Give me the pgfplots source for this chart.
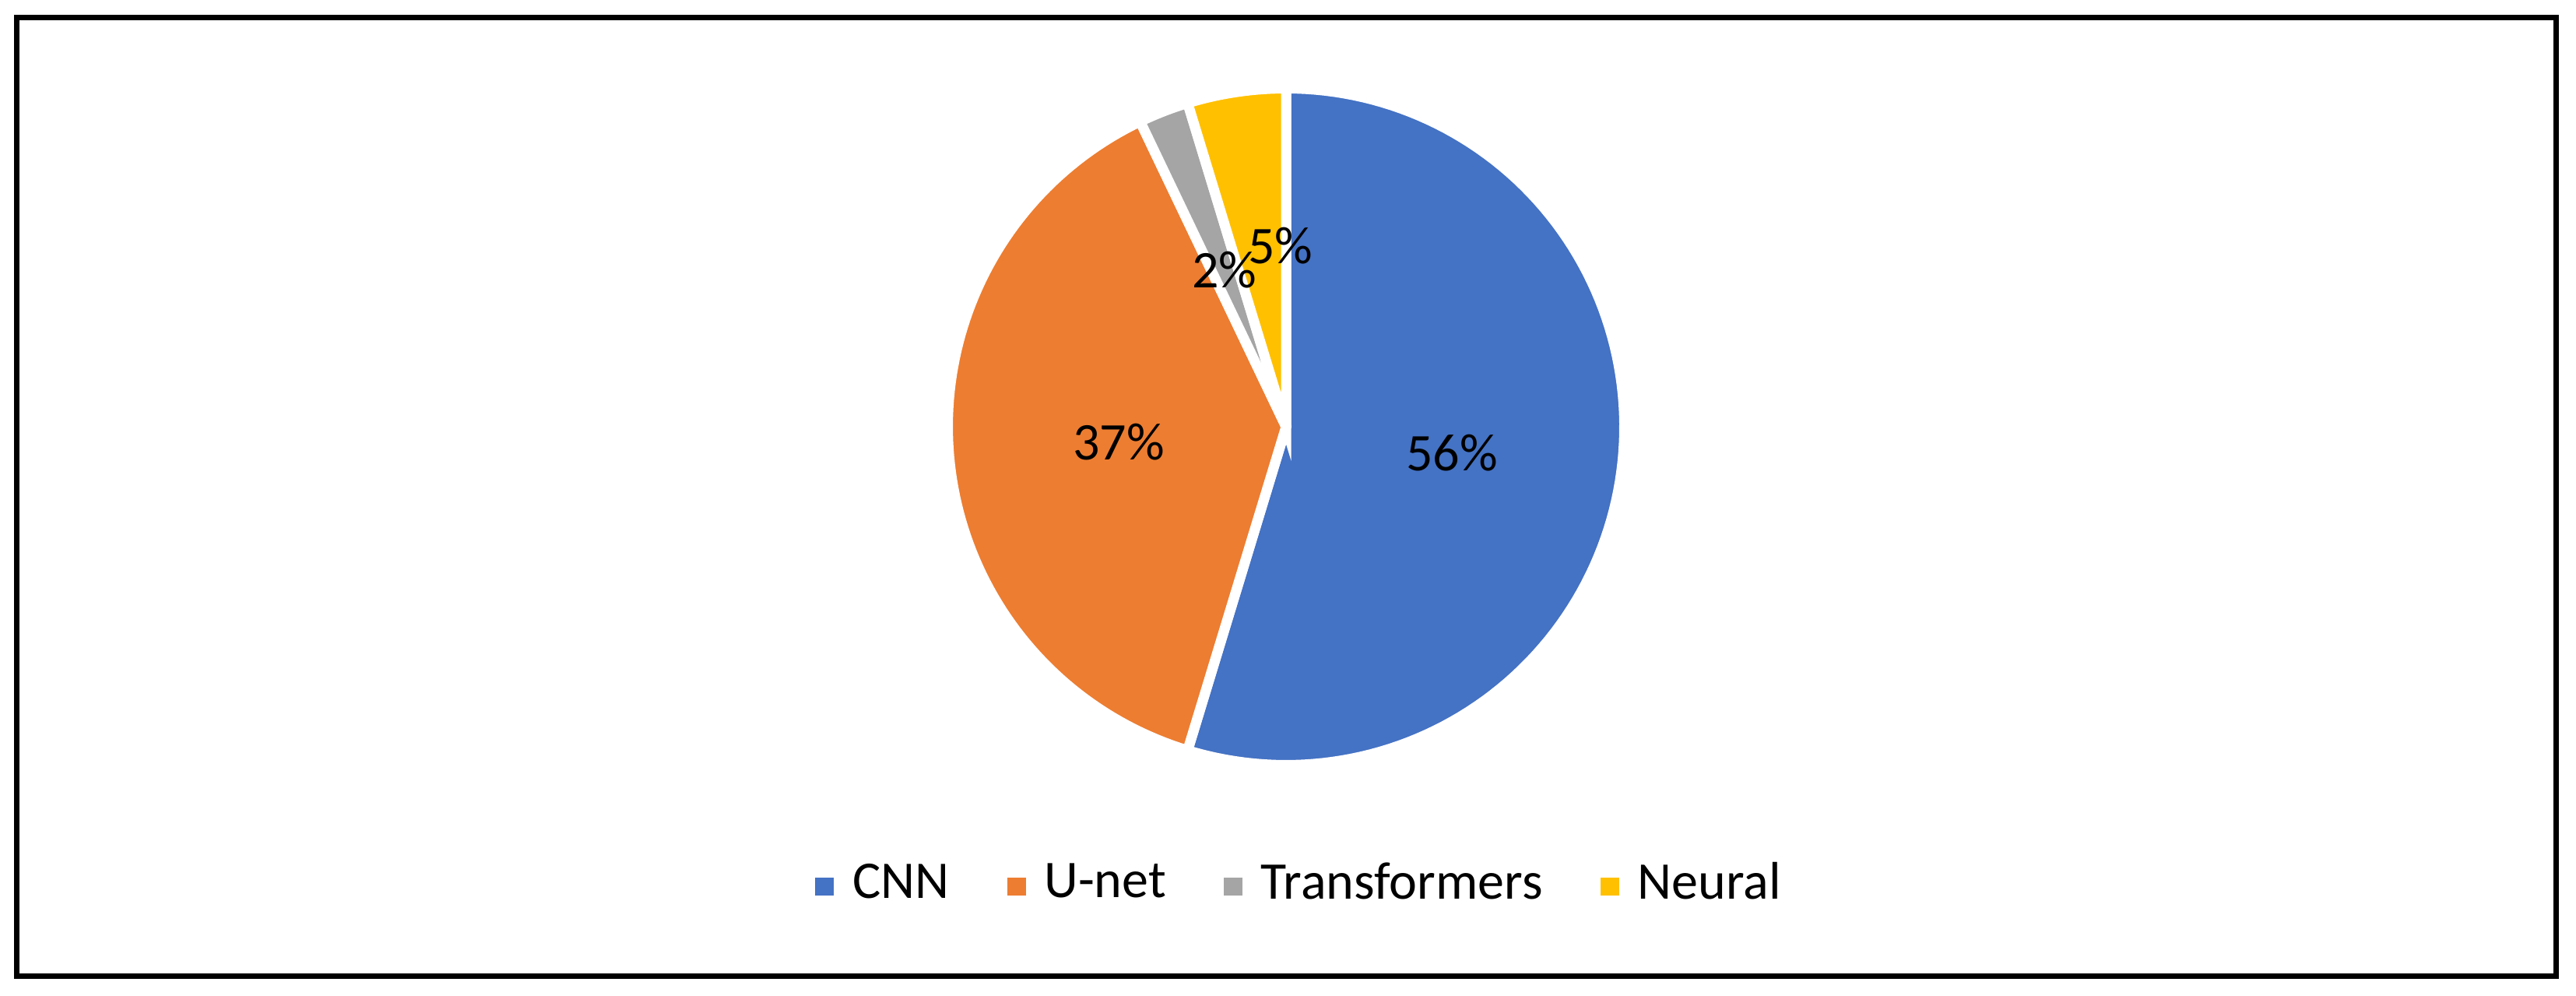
\documentclass[border=0pt]{standalone}
\usepackage{fontspec}
\setmainfont{Carlito}
\usepackage{pgfplots}
\usepackage{pgfplotstable}
\pgfplotsset{compat=1.18}
\definecolor{cnnblue}{HTML}{4472C4}
\definecolor{unetorange}{HTML}{ED7D31}
\definecolor{trgray}{HTML}{A5A5A5}
\definecolor{neuralyellow}{HTML}{FFC000}
\pgfplotstableread{
label value
CNN 54.7
U-net 38.2
Transformers 2.4
Neural 4.7
}\piedata
\begin{document}
\begin{tikzpicture}
\pgfplotstablegetelem{0}{value}\of\piedata \pgfmathsetmacro\aA{90-3.6*\pgfplotsretval}
\pgfplotstablegetelem{1}{value}\of\piedata \pgfmathsetmacro\aB{\aA-3.6*\pgfplotsretval}
\pgfplotstablegetelem{2}{value}\of\piedata \pgfmathsetmacro\aC{\aB-3.6*\pgfplotsretval}
\pgfplotstablegetelem{3}{value}\of\piedata \pgfmathsetmacro\aD{\aC-3.6*\pgfplotsretval}
\def\cx{1652}\def\cy{731}\def\R{434.5}
\begin{axis}[
  x=0.1pt, y=0.1pt, scale only axis,
  xmin=0, xmax=3309, ymin=0, ymax=1279,
  hide axis, clip=false,
  font=\fontsize{6.8}{8}\selectfont,
  legend columns=4,
  legend style={at={(axis cs:1667.5,140.5)}, anchor=center, draw=none, fill=none,
    font=\fontsize{6.8}{8}\selectfont, inner sep=0pt,
    /tikz/every even column/.append style={column sep=7.4pt},
    nodes={inner sep=0pt, anchor=west}},
  legend image code/.code={\fill[#1, draw=none] (0pt,-1.17pt) rectangle (2.4pt,1.17pt);},
]
\path (axis cs:0,0) rectangle (axis cs:3309,1279);
\addplot[fill=cnnblue, draw=white, line width=1.3pt, line join=miter, domain=\aA:90, samples=120, variable=\t]
  ({\cx+\R*cos(t)}, {\cy+\R*sin(t)}) -- (axis cs:\cx,\cy) -- cycle;
\addlegendentry{\hspace{2.4pt}CNN}
\addplot[fill=unetorange, draw=white, line width=1.3pt, line join=miter, domain=\aB:\aA, samples=100, variable=\t]
  ({\cx+\R*cos(t)}, {\cy+\R*sin(t)}) -- (axis cs:\cx,\cy) -- cycle;
\addlegendentry{\hspace{2.4pt}U-net}
\addplot[fill=trgray, draw=white, line width=1.3pt, line join=miter, domain=\aC:\aB, samples=10, variable=\t]
  ({\cx+\R*cos(t)}, {\cy+\R*sin(t)}) -- (axis cs:\cx,\cy) -- cycle;
\addlegendentry{\hspace{2.4pt}Transformers}
\addplot[fill=neuralyellow, draw=white, line width=1.3pt, line join=miter, domain=\aD:\aC, samples=15, variable=\t]
  ({\cx+\R*cos(t)}, {\cy+\R*sin(t)}) -- (axis cs:\cx,\cy) -- cycle;
\addlegendentry{\hspace{2.4pt}Neural}
\node at (axis cs:1865,697) {56\%};
\node at (axis cs:1437,711) {37\%};
\node at (axis cs:1573,932) {2\%};
\node at (axis cs:1645,963) {5\%};
\draw[line width=0.7pt] (axis cs:21.5,1256) rectangle (axis cs:3283.5,25.5);
\end{axis}
\end{tikzpicture}
\end{document}
